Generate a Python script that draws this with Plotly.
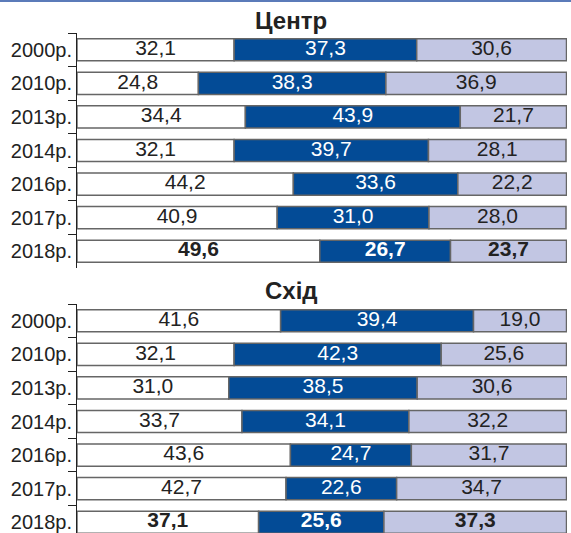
import plotly.graph_objects as go

years = ["2000р.", "2010р.", "2013р.", "2014р.", "2016р.", "2017р.", "2018р."]

centr_a = [32.1, 24.8, 34.4, 32.1, 44.2, 40.9, 49.6]
centr_b = [37.3, 38.3, 43.9, 39.7, 33.6, 31.0, 26.7]
centr_c = [30.6, 36.9, 21.7, 28.1, 22.2, 28.0, 23.7]

skhid_a = [41.6, 32.1, 31.0, 33.7, 43.6, 42.7, 37.1]
skhid_b = [39.4, 42.3, 38.5, 34.1, 24.7, 22.6, 25.6]
skhid_c = [19.0, 25.6, 30.6, 32.2, 31.7, 34.7, 37.3]

titles = ["Центр", "Схід"]

colors = ["#ffffff", "#034b96", "#c2c6e3"]
txtcolors = ["#222222", "#ffffff", "#222222"]
FONT = "Liberation Sans, Arial, sans-serif"

def fmt(vals):
    out = []
    for i, v in enumerate(vals):
        s = f"{v:.1f}".replace(".", ",")
        if i == len(vals) - 1:
            s = f"<b>{s}</b>"
        out.append(s)
    return out

fig = go.Figure()
groups = [(centr_a, centr_b, centr_c), (skhid_a, skhid_b, skhid_c)]
for gi, grp in enumerate(groups):
    xa = "x" if gi == 0 else "x2"
    ya = "y" if gi == 0 else "y2"
    base = [0.0] * len(years)
    for si, vals in enumerate(grp):
        fig.add_trace(go.Bar(
            y=years, x=vals, base=base, orientation="h",
            xaxis=xa, yaxis=ya,
            width=0.66,
            marker=dict(color=colors[si], line=dict(color="#666666", width=1.5)),
            hoverinfo="skip", showlegend=False,
        ))
        mids = [b + v / 2 for b, v in zip(base, vals)]
        fig.add_trace(go.Scatter(
            y=years, x=mids, mode="text", text=fmt(vals),
            xaxis=xa, yaxis=ya,
            textposition="middle center",
            textfont=dict(size=21, color=txtcolors[si], family=FONT),
            hoverinfo="skip", showlegend=False,
        ))
        base = [b + v for b, v in zip(base, vals)]

W, H = 571, 533
ml, mr, mt, mb = 77, 4, 33, 0
ph = H - mt - mb
row_px = (268 - 33) / 7

top_dom = [(H - 268) / ph, 1.0]
bot_dom = [0.0, (H - 304) / ph]
ncat_bottom = (H - 304) / row_px

yax_common = dict(
    type="category", tickson="boundaries", ticks="outside", ticklen=8,
    tickcolor="#222222", showline=True, linecolor="#222222", linewidth=1,
    tickfont=dict(size=20, color="#222222", family=FONT),
    showgrid=False, zeroline=False, fixedrange=True, automargin=False,
)
xax_common = dict(range=[0, 100.1], visible=False, showgrid=False, zeroline=False,
                  automargin=False, fixedrange=True)

fig.update_layout(
    width=W, height=H,
    margin=dict(l=ml, r=mr, t=mt, b=mb, autoexpand=False),
    barmode="overlay",
    plot_bgcolor="white", paper_bgcolor="white",
    xaxis=dict(domain=[0, 1], anchor="y", **xax_common),
    xaxis2=dict(domain=[0, 1], anchor="y2", **xax_common),
    yaxis=dict(domain=top_dom, anchor="x", range=[6.5, -0.5], **yax_common),
    yaxis2=dict(domain=bot_dom, anchor="x2", range=[-0.5 + ncat_bottom, -0.5], **yax_common),
    font=dict(family=FONT),
    hovermode=False,
)

fig.add_shape(type="line", xref="paper", yref="paper",
              x0=-ml / (W - ml - mr), x1=1 + mr / (W - ml - mr),
              y0=1 + (mt - 1) / ph, y1=1 + (mt - 1) / ph,
              line=dict(color="#5b7bb9", width=2))

title_x = (291 - ml) / (W - ml - mr)
for t, ypx in zip(titles, [21, 290]):
    fig.add_annotation(
        text=f"<b>{t}</b>", xref="paper", yref="paper",
        x=title_x, y=(H - ypx - mb) / ph, xanchor="center", yanchor="middle",
        showarrow=False, font=dict(size=24, color="#222222"),
    )

fig.write_html("out.html", config={"displayModeBar": False, "staticPlot": True},
               post_script="document.body.style.margin='0';document.body.style.overflow='hidden';")
